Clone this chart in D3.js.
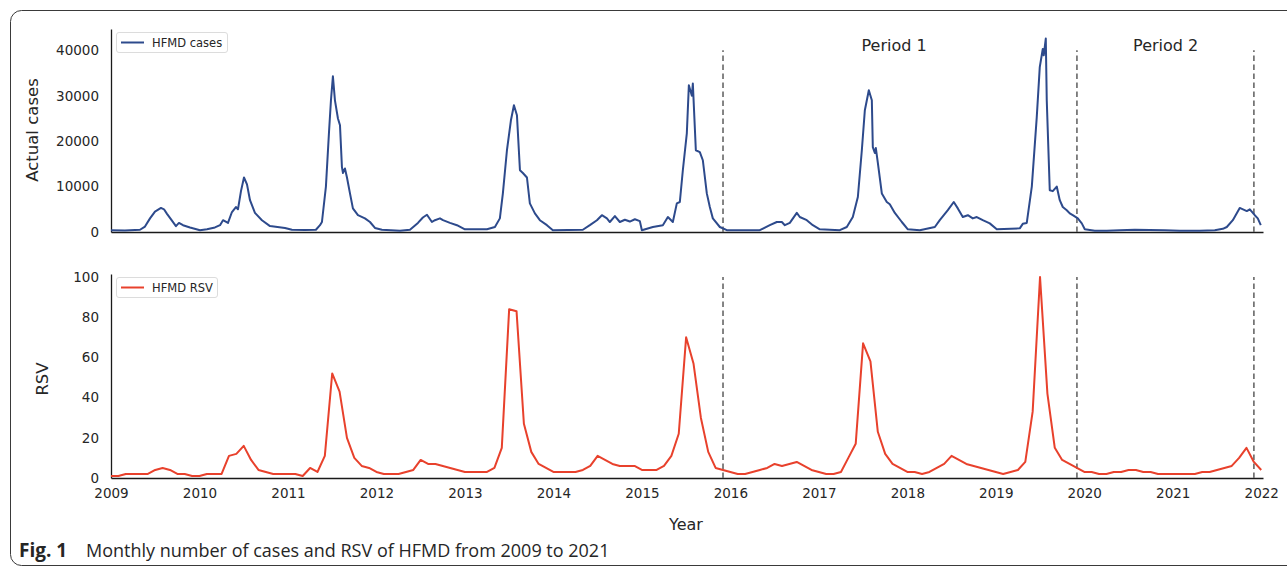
<!DOCTYPE html>
<html>
<head>
<meta charset="utf-8">
<script src="https://cdn.jsdelivr.net/npm/d3@7"></script>
<style>
  body { margin: 0; background: #fff; }
  text { font-family: "DejaVu Sans", sans-serif; fill: #262626; }
</style>
</head>
<body>
<svg id="chart" width="1287" height="569"></svg>
<script>
// weekly-ish case counts, time as decimal year
const caseTime = [
  2009.000, 2009.158, 2009.328, 2009.384, 2009.441, 2009.497, 2009.565, 2009.599, 2009.633, 2009.689,
  2009.734, 2009.768, 2009.814, 2009.893, 2010.006, 2010.085, 2010.175, 2010.232, 2010.266, 2010.322,
  2010.367, 2010.412, 2010.435, 2010.469, 2010.503, 2010.537, 2010.571, 2010.627, 2010.706, 2010.797,
  2010.966, 2011.045, 2011.192, 2011.316, 2011.362, 2011.384, 2011.429, 2011.463, 2011.486, 2011.508,
  2011.531, 2011.565, 2011.588, 2011.610, 2011.622, 2011.644, 2011.667, 2011.701, 2011.734, 2011.791,
  2011.870, 2011.927, 2011.983, 2012.062, 2012.266, 2012.379, 2012.469, 2012.525, 2012.571, 2012.627,
  2012.661, 2012.718, 2012.752, 2012.831, 2012.910, 2013.000, 2013.249, 2013.339, 2013.395, 2013.429,
  2013.475, 2013.520, 2013.554, 2013.588, 2013.622, 2013.655, 2013.701, 2013.734, 2013.791, 2013.847,
  2013.927, 2013.994, 2014.333, 2014.412, 2014.492, 2014.548, 2014.605, 2014.638, 2014.695, 2014.751,
  2014.808, 2014.864, 2014.921, 2014.977, 2015.000, 2015.124, 2015.237, 2015.294, 2015.350, 2015.395,
  2015.429, 2015.463, 2015.508, 2015.531, 2015.565, 2015.576, 2015.610, 2015.655, 2015.689, 2015.734,
  2015.768, 2015.802, 2015.881, 2015.960, 2016.333, 2016.446, 2016.525, 2016.582, 2016.616, 2016.672,
  2016.751, 2016.785, 2016.864, 2016.932, 2017.011, 2017.237, 2017.316, 2017.384, 2017.441, 2017.486,
  2017.520, 2017.565, 2017.599, 2017.610, 2017.633, 2017.644, 2017.667, 2017.712, 2017.768, 2017.802,
  2017.859, 2017.938, 2018.006, 2018.141, 2018.311, 2018.367, 2018.458, 2018.525, 2018.571, 2018.627,
  2018.684, 2018.740, 2018.785, 2018.853, 2018.932, 2019.011, 2019.271, 2019.305, 2019.350, 2019.407,
  2019.463, 2019.497, 2019.531, 2019.542, 2019.565, 2019.576, 2019.610, 2019.644, 2019.689, 2019.723,
  2019.757, 2019.802, 2019.836, 2019.870, 2019.927, 2019.972, 2020.006, 2020.119, 2020.254, 2020.401,
  2020.571, 2020.740, 2020.910, 2021.080, 2021.305, 2021.475, 2021.566, 2021.611, 2021.679, 2021.757,
  2021.837, 2021.871, 2021.927, 2021.961, 2021.995
]
const caseValues = [
  400, 350, 500, 1200, 3000, 4500, 5300, 5000, 4000, 2500,
  1300, 2000, 1500, 1000, 400, 600, 1000, 1500, 2600, 2000,
  4400, 5500, 5000, 9000, 12000, 10500, 7000, 4200, 2600, 1300,
  900, 500, 450, 500, 1500, 2200, 10000, 21700, 29000, 34300,
  29000, 25000, 23500, 14300, 13000, 14000, 12000, 8500, 5200, 3700,
  3000, 2200, 900, 500, 300, 500, 2000, 3200, 3800, 2200,
  2600, 3000, 2600, 2000, 1500, 600, 600, 1100, 3000, 8500,
  18000, 24600, 27900, 25700, 13600, 13000, 12000, 6300, 4100, 2600,
  1500, 400, 500, 1500, 2600, 3700, 3000, 2200, 3500, 2200,
  2700, 2300, 2800, 2400, 400, 1100, 1500, 3300, 2200, 6300,
  6600, 13600, 21700, 32300, 30000, 32700, 18000, 17600, 15800, 8500,
  5500, 3000, 1100, 400, 400, 1500, 2200, 2200, 1500, 2000,
  4200, 3300, 2600, 1500, 600, 400, 1100, 3300, 7700, 18000,
  26800, 31200, 29000, 18700, 17400, 18500, 15200, 8500, 6600, 6100,
  4200, 2200, 600, 400, 1100, 2600, 4800, 6600, 5200, 3300,
  3700, 3000, 3300, 2600, 1900, 600, 800, 1800, 2000, 10000,
  25300, 36300, 40300, 38900, 42600, 29000, 9200, 9000, 10000, 7000,
  5500, 4800, 4100, 3700, 3000, 1900, 600, 300, 300, 400,
  500, 450, 400, 300, 250, 400, 700, 1100, 2600, 5300,
  4600, 5000, 3700, 3000, 1500
]

// monthly RSV, Jan 2009 .. Jan 2022
const rsvStartYear = 2009
const rsvValues = [
  1, 1, 2, 2, 2, 2, 4, 5, 4, 2, 2, 1,
  1, 2, 2, 2, 11, 12, 16, 9, 4, 3, 2, 2,
  2, 2, 1, 5, 3, 11, 52, 43, 20, 10, 6, 5,
  3, 2, 2, 2, 3, 4, 9, 7, 7, 6, 5, 4,
  3, 3, 3, 3, 5, 15, 84, 83, 27, 13, 7, 5,
  3, 3, 3, 3, 4, 6, 11, 9, 7, 6, 6, 6,
  4, 4, 4, 6, 11, 22, 70, 57, 30, 13, 5, 4,
  3, 2, 2, 3, 4, 5, 7, 6, 7, 8, 6, 4,
  3, 2, 2, 3, 10, 17, 67, 58, 23, 12, 7, 5,
  3, 3, 2, 3, 5, 7, 11, 9, 7, 6, 5, 4,
  3, 2, 3, 4, 8, 33, 100, 42, 15, 9, 7, 5,
  3, 3, 2, 2, 3, 3, 4, 4, 3, 3, 2, 2,
  2, 2, 2, 2, 3, 3, 4, 5, 6, 10, 15, 8,
  4
]

const yearTicks = [2009, 2010, 2011, 2012, 2013, 2014, 2015, 2016, 2017, 2018, 2019, 2020, 2021, 2022]
const caseTicks = [0, 10000, 20000, 30000, 40000]
const rsvTicks = [0, 20, 40, 60, 80, 100]
const periodBreaks = [2015.917, 2019.917, 2021.917]
const periodLabels = ['Period 1', 'Period 2']
const periodLabelAt = [2017.85, 2020.92]

var svg = d3.select('#chart')

// outer frame of the figure
svg.append('rect')
  .attr('x', 10.5).attr('y', 10.5)
  .attr('width', 1300).attr('height', 555)
  .attr('rx', 11)
  .attr('fill', 'none')
  .attr('stroke', '#3a3a3a')
  .attr('stroke-width', 1)

var x = d3.scaleLinear().domain([2009, 2022.02]).range([111, 1263])
var yCases = d3.scaleLinear().domain([0, 44700]).range([232, 29])
var yRsv = d3.scaleLinear().domain([0, 101.5]).range([478, 274])

function styleAxis(g) {
  g.select('.domain').attr('stroke', '#1a1a1a').attr('stroke-width', 1.3)
  g.selectAll('.tick line').remove()
  g.selectAll('.tick text')
    .attr('fill', '#262626')
    .style('font-family', '"DejaVu Sans", sans-serif')
    .style('font-size', '13.5px')
}

// ---- top panel: cases
svg.append('g')
  .attr('transform', 'translate(0,232)')
  .call(d3.axisBottom(x).tickValues([]).tickSizeOuter(0))
  .call(styleAxis)

svg.append('g')
  .attr('transform', 'translate(111,0)')
  .call(d3.axisLeft(yCases).tickValues(caseTicks).tickSize(0).tickPadding(12).tickFormat(d3.format('d')))
  .call(styleAxis)

svg.append('g').selectAll('line')
  .data(periodBreaks)
  .enter()
  .append('line')
  .attr('x1', function (d) { return x(d) })
  .attr('x2', function (d) { return x(d) })
  .attr('y1', yCases(0))
  .attr('y2', yCases(40000))
  .attr('stroke', '#707070')
  .attr('stroke-width', 1.7)
  .attr('stroke-dasharray', '5.5,3.5')

var caseLine = d3.line()
  .x(function (d, i) { return x(caseTime[i]) })
  .y(function (d) { return yCases(d) })

svg.append('path')
  .datum(caseValues)
  .attr('d', caseLine)
  .attr('fill', 'none')
  .attr('stroke', '#2d4a8c')
  .attr('stroke-width', 2)
  .attr('stroke-linejoin', 'round')

svg.append('g').selectAll('text')
  .data(periodLabels)
  .enter()
  .append('text')
  .attr('x', function (d, i) { return x(periodLabelAt[i]) })
  .attr('y', yCases(40000) + 1)
  .attr('text-anchor', 'middle')
  .style('font-size', '16px')
  .text(function (d) { return d })

svg.append('text')
  .attr('transform', 'translate(38,130) rotate(-90)')
  .attr('text-anchor', 'middle')
  .style('font-size', '16.5px')
  .text('Actual cases')

// ---- bottom panel: RSV
svg.append('g')
  .attr('transform', 'translate(0,478)')
  .call(d3.axisBottom(x).tickValues(yearTicks).tickSize(0).tickPadding(10).tickSizeOuter(0).tickFormat(d3.format('d')))
  .call(styleAxis)

svg.append('g')
  .attr('transform', 'translate(111,0)')
  .call(d3.axisLeft(yRsv).tickValues(rsvTicks).tickSize(0).tickPadding(12).tickFormat(d3.format('d')))
  .call(styleAxis)

svg.append('g').selectAll('line')
  .data(periodBreaks)
  .enter()
  .append('line')
  .attr('x1', function (d) { return x(d) })
  .attr('x2', function (d) { return x(d) })
  .attr('y1', yRsv(0))
  .attr('y2', yRsv(100))
  .attr('stroke', '#707070')
  .attr('stroke-width', 1.7)
  .attr('stroke-dasharray', '5.5,3.5')

var rsvLine = d3.line()
  .x(function (d, i) { return x(rsvStartYear + i / 12) })
  .y(function (d) { return yRsv(d) })

svg.append('path')
  .datum(rsvValues)
  .attr('d', rsvLine)
  .attr('fill', 'none')
  .attr('stroke', '#e8412c')
  .attr('stroke-width', 2)
  .attr('stroke-linejoin', 'round')

svg.append('text')
  .attr('transform', 'translate(48,379) rotate(-90)')
  .attr('text-anchor', 'middle')
  .style('font-size', '16.5px')
  .text('RSV')

svg.append('text')
  .attr('x', 686).attr('y', 530)
  .attr('text-anchor', 'middle')
  .style('font-size', '16px')
  .text('Year')

// legends
function legend(y0, label, color, w) {
  var g = svg.append('g')
  g.append('rect')
    .attr('x', 116.5).attr('y', y0 + 0.5)
    .attr('width', w).attr('height', 20)
    .attr('rx', 2.5)
    .attr('fill', '#fff')
    .attr('stroke', '#dcdcdc')
  g.append('line')
    .attr('x1', 121).attr('x2', 144)
    .attr('y1', y0 + 10.5).attr('y2', y0 + 10.5)
    .attr('stroke', color).attr('stroke-width', 2)
  g.append('text')
    .attr('x', 152).attr('y', y0 + 14.5)
    .style('font-size', '11.5px')
    .text(label)
}
legend(32, 'HFMD cases', '#2d4a8c', 111)
legend(277, 'HFMD RSV', '#e8412c', 101)

// caption
var cap = svg.append('text')
  .attr('x', 19).attr('y', 557)
  .style('font-family', '"Open Sans", "Noto Sans", sans-serif')
  .style('font-size', '18px')
  .attr('fill', '#231f20')
cap.append('tspan').style('font-weight', 'bold').style('font-size', '19px').text('Fig. 1')
cap.append('tspan').attr('x', 86).text('Monthly number of cases and RSV of HFMD from 2009 to 2021')
</script>
</body>
</html>
